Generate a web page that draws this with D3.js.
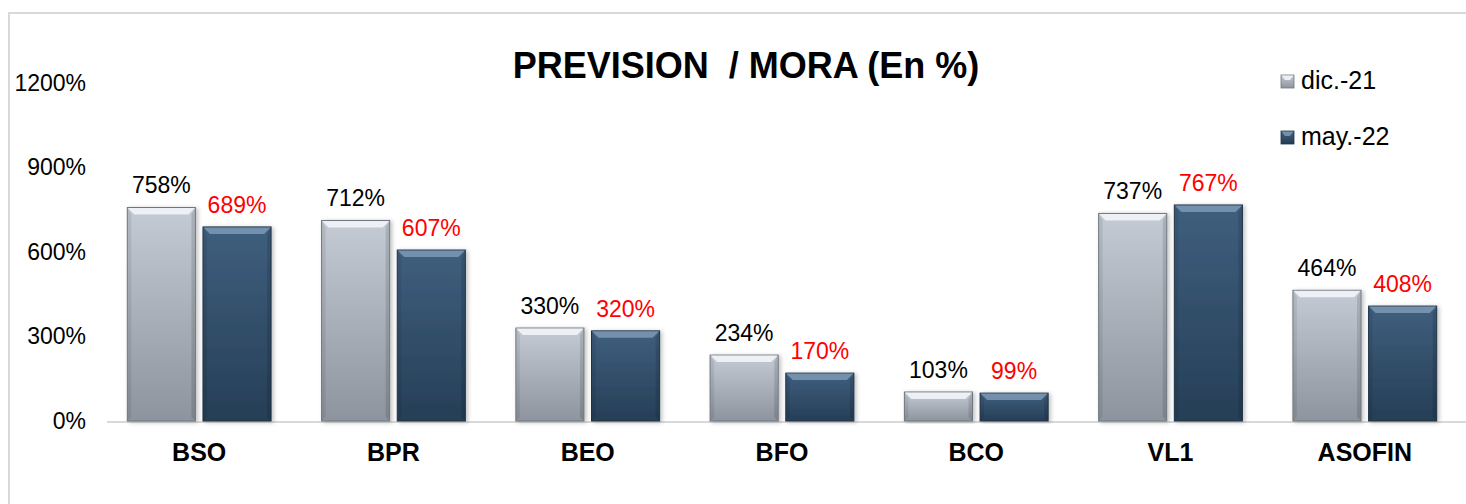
<!DOCTYPE html>
<html>
<head>
<meta charset="utf-8">
<script src="https://cdn.jsdelivr.net/npm/d3@7"></script>
<style>
  body { margin: 0; background: #fff; }
  text { font-family: "Liberation Sans", Arial, sans-serif; }
</style>
</head>
<body>
<div id="chart"></div>
<script>
// Chart data
var categories = ["BSO", "BPR", "BEO", "BFO", "BCO", "VL1", "ASOFIN"];
var seriesNames = ["dic.-21", "may.-22"];
var dic21 = [758, 712, 330, 234, 103, 737, 464];
var may22 = [689, 607, 320, 170, 99, 767, 408];
var yTicks = [0, 300, 600, 900, 1200];

var svgWidth = 1466;
var svgHeight = 504;

var margin = { top: 83, right: 6, bottom: 83, left: 104 };
var chartWidth = svgWidth - margin.left - margin.right;
var chartHeight = svgHeight - margin.top - margin.bottom;

var svg = d3.select("#chart")
  .append("svg")
  .attr("width", svgWidth)
  .attr("height", svgHeight);

// Gradients for the bevelled bars
var defs = svg.append("defs");
var fills = [
  { id: "gLight", top: "#c4cbd4", bottom: "#8d949d", edge: "#6f767e", hi: "#f4f7fb" },
  { id: "gDark", top: "#3f5f7e", bottom: "#263e56", edge: "#1f3346", hi: "#7d9ab5" }
];
fills.forEach(function(f) {
  var g = defs.append("linearGradient")
    .attr("id", f.id)
    .attr("x1", 0).attr("y1", 0).attr("x2", 0).attr("y2", 1);
  g.append("stop").attr("offset", "0%").attr("stop-color", f.top);
  g.append("stop").attr("offset", "100%").attr("stop-color", f.bottom);
});
var sh = defs.append("filter").attr("id", "shadow")
  .attr("x", "-10%").attr("y", "-10%").attr("width", "130%").attr("height", "120%");
sh.append("feDropShadow").attr("dx", 2).attr("dy", 1).attr("stdDeviation", 2)
  .attr("flood-color", "#000").attr("flood-opacity", 0.25);

// Outer chart border
svg.append("rect")
  .attr("x", 9).attr("y", 13)
  .attr("width", svgWidth).attr("height", svgHeight)
  .attr("fill", "none")
  .attr("stroke", "#d9d9d9")
  .attr("stroke-width", 2);

var chartGroup = svg.append("g")
  .attr("transform", `translate(${margin.left}, ${margin.top})`);

// Scales
var x0 = d3.scaleBand()
  .domain(categories)
  .range([0, chartWidth])
  .paddingInner(0.26)
  .paddingOuter(0.12);

var x1 = d3.scaleBand()
  .domain(seriesNames)
  .range([0, x0.bandwidth()])
  .paddingInner(0.1)
  .paddingOuter(0);

var yScale = d3.scaleLinear()
  .domain([0, 1200])
  .range([chartHeight, 0]);

// Y axis (labels only)
var leftAxis = d3.axisLeft(yScale)
  .tickValues(yTicks)
  .tickFormat(d => d + "%")
  .tickSize(0)
  .tickPadding(18);

var yAxisG = chartGroup.append("g").call(leftAxis);
yAxisG.select(".domain").remove();
yAxisG.selectAll("text")
  .attr("font-size", 23)
  .attr("font-family", "'Liberation Sans', Arial, sans-serif")
  .attr("fill", "#000");

// Baseline
chartGroup.append("line")
  .attr("x1", 3).attr("x2", chartWidth + margin.right)
  .attr("y1", yScale(0) + 1).attr("y2", yScale(0) + 1)
  .attr("stroke", "#d9d9d9")
  .attr("stroke-width", 2);

// X axis (category labels)
var bottomAxis = d3.axisBottom(x0).tickSize(0).tickPadding(22);
var xAxisG = chartGroup.append("g")
  .attr("transform", `translate(0, ${yScale(0)})`)
  .call(bottomAxis);
xAxisG.select(".domain").remove();
xAxisG.selectAll("text")
  .attr("font-size", 25)
  .attr("font-weight", "bold")
  .attr("font-family", "'Liberation Sans', Arial, sans-serif")
  .attr("fill", "#000");

// Bars
var series = [
  { name: seriesNames[0], values: dic21, fill: fills[0], label: "#000" },
  { name: seriesNames[1], values: may22, fill: fills[1], label: "#ff0000" }
];

series.forEach(function(s) {
  var rows = categories.map((c, i) => ({ cat: c, value: s.values[i] }));
  var g = chartGroup.selectAll(".bar-" + s.fill.id)
    .data(rows)
    .enter()
    .append("g")
    .attr("transform", d => `translate(${x0(d.cat) + x1(s.name)}, 0)`);

  var w = x1.bandwidth();
  var bev = 7;

  g.append("rect")
    .attr("x", 0)
    .attr("y", d => yScale(d.value))
    .attr("width", w)
    .attr("height", d => yScale(0) - yScale(d.value))
    .attr("fill", `url(#${s.fill.id})`)
    .attr("stroke", s.fill.edge)
    .attr("stroke-width", 1)
    .attr("filter", "url(#shadow)");

  // top bevel highlight
  g.append("path")
    .attr("d", d => {
      var t = yScale(d.value);
      return `M0.5,${t + 0.5} L${w - 0.5},${t + 0.5} L${w - bev},${t + bev} L${bev},${t + bev} Z`;
    })
    .attr("fill", s.fill.hi)
    .attr("opacity", 0.85);

  // side shading
  g.append("path")
    .attr("d", d => {
      var t = yScale(d.value), b = yScale(0);
      return `M${w - 0.5},${t + 0.5} L${w - 0.5},${b - 0.5} L${w - 4},${b - 4} L${w - 4},${t + bev}Z`;
    })
    .attr("fill", "#000")
    .attr("opacity", 0.12);
  g.append("path")
    .attr("d", d => {
      var t = yScale(d.value), b = yScale(0);
      return `M0.5,${t + 0.5} L0.5,${b - 0.5} L4,${b - 4} L4,${t + bev}Z`;
    })
    .attr("fill", "#000")
    .attr("opacity", 0.08);

  // data labels
  g.append("text")
    .attr("x", w / 2)
    .attr("y", d => yScale(d.value) - 14)
    .attr("text-anchor", "middle")
    .attr("font-size", 23)
    .attr("fill", s.label)
    .text(d => d.value + "%");
});

// Title
svg.append("text")
  .text("PREVISION  / MORA (En %)")
  .attr("x", 746)
  .attr("y", 78)
  .attr("text-anchor", "middle")
  .attr("font-size", 36)
  .attr("font-weight", "bold")
  .attr("fill", "#000")
  .style("white-space", "pre");

// Legend
var legend = svg.append("g").attr("transform", "translate(1281, 75)");
series.forEach(function(s, i) {
  var row = legend.append("g").attr("transform", `translate(0, ${i * 56})`);
  row.append("rect")
    .attr("width", 13).attr("height", 13)
    .attr("fill", `url(#${s.fill.id})`)
    .attr("stroke", s.fill.edge)
    .attr("stroke-width", 0.8);
  row.append("path")
    .attr("d", "M0.5,0.5 L12.5,0.5 L9,5 L4,5 Z")
    .attr("fill", s.fill.hi)
    .attr("opacity", 0.85);
  row.append("text")
    .attr("x", 20)
    .attr("y", 14)
    .attr("font-size", 25)
    .attr("fill", "#000")
    .text(s.name);
});
</script>
</body>
</html>
